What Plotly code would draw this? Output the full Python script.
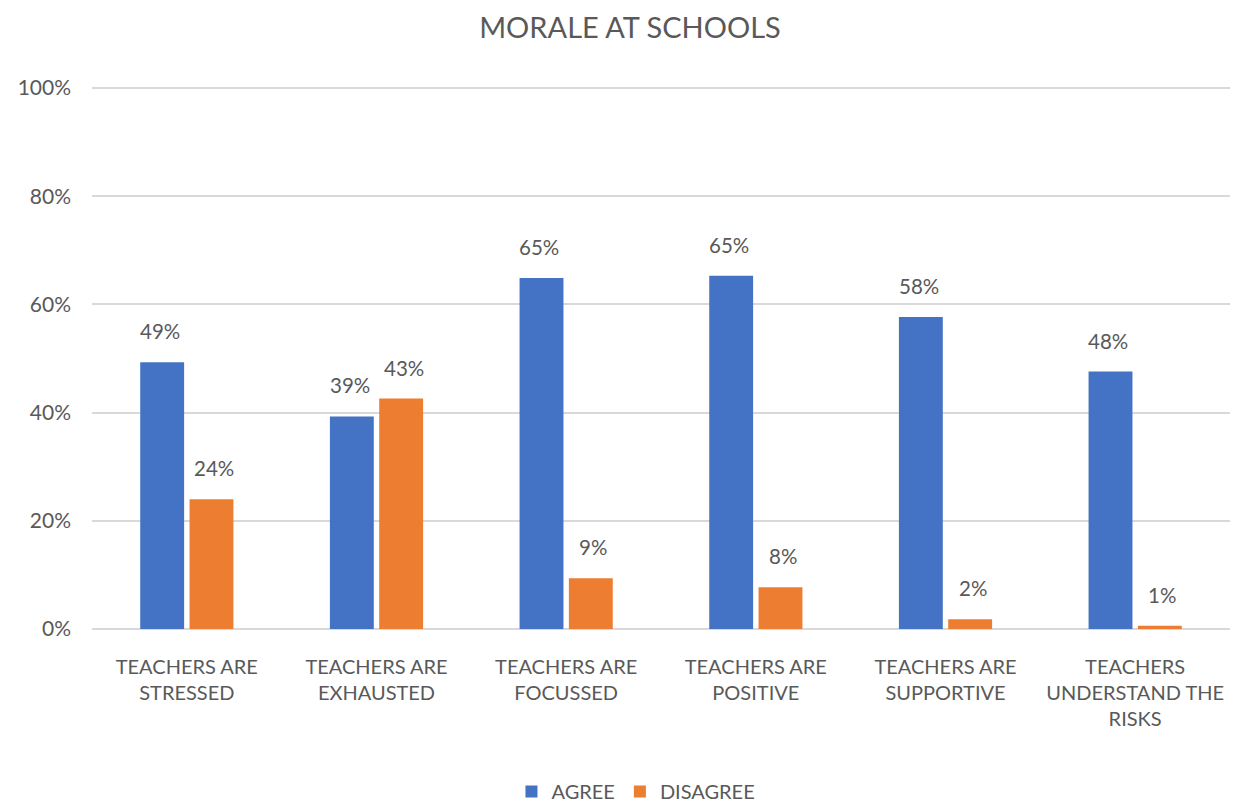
import plotly.graph_objects as go

categories = [
    "TEACHERS ARE<br>STRESSED",
    "TEACHERS ARE<br>EXHAUSTED",
    "TEACHERS ARE<br>FOCUSSED",
    "TEACHERS ARE<br>POSITIVE",
    "TEACHERS ARE<br>SUPPORTIVE",
    "TEACHERS<br>UNDERSTAND THE<br>RISKS",
]
agree = [0.493, 0.393, 0.649, 0.653, 0.577, 0.476]
disagree = [0.240, 0.426, 0.094, 0.077, 0.018, 0.006]
y_ticks = [0, 0.2, 0.4, 0.6, 0.8, 1.0]
y_tick_labels = ["0%", "20%", "40%", "60%", "80%", "100%"]

FONT = "Lato, 'Open Sans', sans-serif"
GREY = "#595959"

fig = go.Figure()
fig.add_trace(go.Bar(name="AGREE", x=categories, y=agree, marker_color="#4472C4",
                     marker_line_width=0))
fig.add_trace(go.Bar(name="DISAGREE", x=categories, y=disagree, marker_color="#ED7D31",
                     marker_line_width=0))

# data labels placed above each bar
for series, shift in ((agree, -27), (disagree, 27)):
    for cat, val in zip(categories, series):
        fig.add_annotation(x=cat, y=val, xref="x", yref="y", text=f"{round(val * 100)}%",
                           showarrow=False, xshift=shift, yshift=31, yanchor="middle",
                           font=dict(size=20.5, color=GREY, family=FONT))

fig.update_layout(
    width=1244, height=795,
    paper_bgcolor="white", plot_bgcolor="white",
    margin=dict(l=84, r=22, t=79, b=174, autoexpand=False),
    title=dict(text="MORALE AT SCHOOLS", x=0.5, xanchor="center", xref="container",
               y=0.975, yanchor="middle", yref="container",
               font=dict(size=29, color=GREY, family=FONT)),
    barmode="group", bargap=0.48, bargroupgap=0.11,
    font=dict(family=FONT, color=GREY),
    legend=dict(orientation="h", x=0.478, xanchor="center", y=-0.300, yanchor="middle",
                font=dict(size=20, color=GREY, family=FONT)),
)
fig.update_yaxes(range=[0, 1.002], tickvals=y_ticks, ticktext=y_tick_labels,
                 showgrid=True, gridcolor="#D9D9D9", gridwidth=2,
                 zeroline=True, zerolinecolor="#D9D9D9", zerolinewidth=2,
                 tickfont=dict(size=21, color=GREY, family=FONT), ticks="",
                 ticklabelstandoff=20, automargin=False)
fig.update_xaxes(tickfont=dict(size=20, color=GREY, family=FONT), showline=False, ticks="",
                 ticklabelstandoff=24, automargin=False)

fig.write_html("out.html")
